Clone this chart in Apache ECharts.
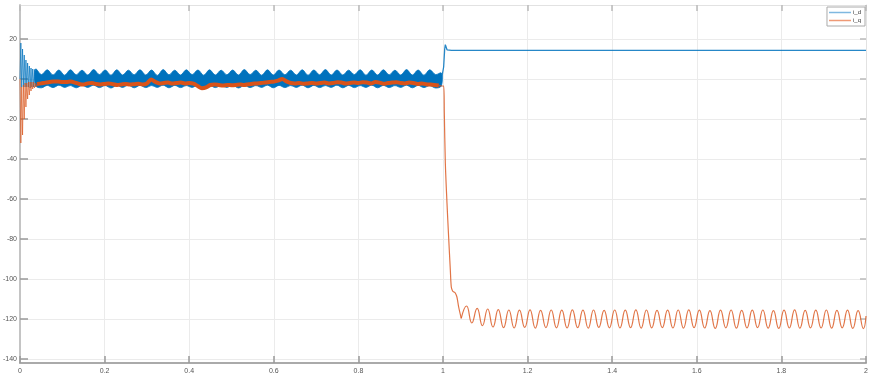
<!DOCTYPE html>
<html>
<head>
<meta charset="utf-8">
<script src="https://cdn.jsdelivr.net/npm/echarts@6/dist/echarts.min.js"></script>
<style>
html,body{margin:0;padding:0;background:#fff;}
#c{width:875px;height:388px;}
</style>
</head>
<body>
<div id="c"></div>
<script>
// ---- tick labels ----
const xTicks = [0, 0.2, 0.4, 0.6, 0.8, 1, 1.2, 1.4, 1.6, 1.8, 2];
const yTicks = [-140, -120, -100, -80, -60, -40, -20, 0, 20];

// ---- i_d (blue) ----
const idTransStart = 0, idTransDt = 0.002;
const idTrans = [0, 18, -4, 15, -4, 12, -4, 9.5, -4, 8, -4, 6.5, -4.5, 5.5, -4, 5, -4, 4.8, -4];
const idBandStart = 0.037, idBandDt = 0.0137;
const idBandUpper = [
  5.0,2.2,4.6,2.0,4.5,1.9,4.6,2.1,4.4,2.0,
  4.7,2.2,4.5,1.9,4.6,2.0,4.4,2.1,4.6,2.0,
  4.5,1.8,4.7,2.1,4.4,2.0,4.6,2.2,4.5,1.9,
  4.6,2.0,4.4,2.1,4.5,2.0,4.7,2.2,4.4,1.9,
  4.6,2.0,4.5,2.1,4.4,2.0,4.6,1.9,4.5,2.1,
  4.7,2.0,4.5,2.0,4.4,2.2,4.6,1.9,4.5,2.0,
  4.6,2.1,4.4,2.0,4.7,2.0,4.5,1.9,4.6,2.2,
  3.0];
const idBandLower = [
  -3.4,-4.4,-3.2,-4.3,-3.1,-4.2,-3.3,-4.4,-3.2,-4.2,
  -3.1,-4.3,-3.3,-4.5,-3.2,-4.2,-3.1,-4.4,-3.2,-4.3,
  -3.3,-4.2,-3.1,-4.4,-3.2,-4.3,-3.3,-4.2,-3.1,-4.4,
  -3.2,-4.3,-3.3,-4.2,-3.1,-4.5,-3.2,-4.3,-3.3,-4.2,
  -3.1,-4.4,-3.2,-4.3,-3.3,-4.2,-3.1,-4.4,-3.2,-4.3,
  -3.3,-4.2,-3.1,-4.4,-3.2,-4.3,-3.3,-4.2,-3.1,-4.4,
  -3.2,-4.3,-3.3,-4.2,-3.1,-4.4,-3.2,-4.3,-3.3,-4.5,
  -3.5];
const idStepT = [0.996, 0.999, 1.0015, 1.004, 1.0055, 1.0075, 1.0095, 1.012, 1.02, 2.0];
const idStepV = [-0.5, -0.5, 6, 15, 17.2, 16.5, 14.6, 14.1, 14.3, 14.3];

// ---- i_q (orange) ----
const iqTransStart = 0, iqTransDt = 0.002;
const iqTrans = [0, -32, -4, -28, -3, -20, -2, -14, -2, -10, -1.5, -8, -1.5, -6, -1.5, -5, -1.5, -4.5, -2, -4, -2.5];
const iqBandStart = 0.04, iqBandDt = 0.01;
const iqBand = [
  -2.5, -2.2, -1.8, -1.5, -1.2, -1.2, -1.5,
  -1.5, -1.3, -1.8, -2.5, -2.8, -2.2, -2.0, -2.5, -2.7, -2.5,
  -2.2, -2.6, -3.0, -2.7, -2.5, -2.8, -2.6, -2.4, -2.7, -2.2,
  -0.3, -1.5, -2.2, -2.0, -1.8, -2.3, -2.0, -1.8, -2.2, -2.0,
  -2.3, -3.5, -4.6, -4.2, -3.0, -2.8, -3.0, -3.2, -3.0, -3.1,
  -3.0, -2.8, -3.0, -2.6, -2.4, -2.2, -2.0, -1.8, -1.5, -1.3,
  -0.8, 0.0, -1.2, -2.0, -2.2, -2.0, -2.4, -2.2, -2.0, -2.3,
  -2.0, -1.8, -2.2, -2.0, -1.6, -1.8, -2.2, -2.0, -1.8, -2.0,
  -1.6, -1.8, -2.2, -1.5, -1.8, -2.4, -2.0, -1.8, -1.6, -2.0,
  -2.2, -1.8, -2.0, -2.5, -2.2, -2.6, -2.8, -3.0, -3.2];
const iqDropT = [0.990, 0.9965, 1.0016, 1.0031, 1.0055, 1.0094, 1.0133, 1.0173, 1.0196, 1.0227, 1.0260, 1.0290, 1.0329, 1.0370];
const iqDropV = [-3.2, -3.5, -3.5, -17, -42, -62, -79, -95.5, -104, -106, -106.5, -107, -109, -114];
const iqOscStart = 1.0431, iqOscDt = 0.01251;
const iqOsc = [
  -119.7,-113.5,-122.0,-114.7,-123.3,-115.0,-124.0,-115.3,-124.3,-115.5,
  -124.5,-115.6,-124.2,-115.4,-124.6,-115.7,-124.3,-115.5,-124.4,-115.6,
  -124.5,-115.4,-124.3,-115.6,-124.6,-115.5,-124.2,-115.7,-124.4,-115.5,
  -124.5,-115.6,-124.3,-115.4,-124.6,-115.5,-124.4,-115.7,-124.3,-115.6,
  -124.5,-115.5,-124.6,-115.4,-124.3,-115.6,-124.5,-115.8,-124.7,-115.6,
  -124.4,-115.5,-124.6,-115.7,-124.5,-115.6,-124.3,-115.5,-124.6,-115.8,
  -124.7,-115.6,-124.5,-115.4,-124.6,-115.7,-124.4,-115.6,-124.5,-115.5,
  -124.6,-115.7,-124.4,-115.6,-124.7,-115.8,-124.8];
const iqEndT = 2.0, iqEndV = -118.5;

// ---- build pairs ----
const grid = (start, dt, arr) => arr.map((v, i) => [+(start + i * dt).toFixed(5), v]);
const pairs = (ts, vs) => ts.map((t, i) => [t, vs[i]]);

const BLUE = '#0072BD', ORANGE = '#D95319';

const idTransData = grid(idTransStart, idTransDt, idTrans);
const idBandData = idBandUpper.map((u, i) => [+(idBandStart + i * idBandDt).toFixed(5), idBandLower[i], u]);
const idStepData = pairs(idStepT, idStepV);

const iqTransData = grid(iqTransStart, iqTransDt, iqTrans);
const iqBandData = grid(iqBandStart, iqBandDt, iqBand);
const iqOscData = grid(iqOscStart, iqOscDt, iqOsc);
const iqDropData = pairs(iqDropT, iqDropV).concat([iqOscData[0]]);
iqOscData.push([iqEndT, iqEndV]);

function renderBand(params, api) {
  if (params.dataIndex !== 0) return null;
  const up = idBandData.map(d => api.coord([d[0], d[2]]));
  const lo = idBandData.map(d => api.coord([d[0], d[1]])).reverse();
  return {
    type: 'polygon',
    shape: {points: up.concat(lo), smooth: 0.35},
    style: {fill: BLUE, stroke: BLUE, lineWidth: 0.8, opacity: 1}
  };
}

const chart = echarts.init(document.getElementById('c'), null, {renderer: 'canvas'});
const axisFont = {color: '#555', fontSize: 7, fontFamily: 'Liberation Sans, Arial, sans-serif'};
const option = {
  animation: false,
  backgroundColor: '#fff',
  grid: {left: 16, right: 9, top: 5, bottom: 25, containLabel: false},
  legend: {
    show: true,
    right: 10, top: 7, orient: 'vertical',
    icon: 'rect',
    itemWidth: 22, itemHeight: 1.5, itemGap: 1,
    padding: [2, 4, 2, 2],
    borderColor: '#aaa', borderWidth: 1, backgroundColor: '#fff',
    textStyle: {fontSize: 6, color: '#333', padding: [0, 0, 0, -3], lineHeight: 7},
    data: [
      {name: 'i_d', itemStyle: {color: '#7fb8e0'}},
      {name: 'i_q', itemStyle: {color: '#ef9a76'}}
    ]
  },
  xAxis: [{
    type: 'value', min: 0, max: 2, interval: 0.2,
    axisLine: {show: true, onZero: false, lineStyle: {color: '#aaa', width: 2}},
    axisTick: {show: true, inside: true, length: 7, lineStyle: {color: '#999', width: 1.5}},
    axisLabel: Object.assign({margin: 5, customValues: xTicks}, axisFont),
    splitLine: {show: true, lineStyle: {color: '#ebebeb', width: 1}}
  }, {
    type: 'value', min: 0, max: 2, interval: 0.2, position: 'top',
    axisLine: {show: true, onZero: false, lineStyle: {color: '#e2e2e2', width: 1}},
    axisTick: {show: true, inside: true, length: 6, lineStyle: {color: '#bbb', width: 1.5}},
    axisLabel: {show: false},
    splitLine: {show: false}
  }],
  yAxis: [{
    type: 'value', min: -142, max: 37, splitNumber: 9,
    axisLine: {show: true, onZero: false, lineStyle: {color: '#c4c4c4', width: 2}},
    axisTick: {show: true, inside: true, length: 8, customValues: yTicks, lineStyle: {color: '#999', width: 1.5}},
    axisLabel: Object.assign({margin: 3, customValues: yTicks}, axisFont),
    splitLine: {show: true, lineStyle: {color: '#ebebeb', width: 1}}
  }, {
    type: 'value', min: -142, max: 37, splitNumber: 9, position: 'right',
    axisLine: {show: true, onZero: false, lineStyle: {color: '#e2e2e2', width: 1}},
    axisTick: {show: true, inside: true, length: 6, customValues: yTicks, lineStyle: {color: '#bbb', width: 1.5}},
    axisLabel: {show: false},
    splitLine: {show: false}
  }],
  series: [
    {name: 'i_d', type: 'line', data: idTransData, symbol: 'none', color: BLUE,
     lineStyle: {color: BLUE, width: 1, opacity: 0.7}},
    {name: 'i_d', type: 'custom', data: idBandData, renderItem: renderBand, color: BLUE,
     encode: {x: 0, y: [1, 2]}, clip: true},
    {name: 'i_d', type: 'line', data: idStepData, symbol: 'none', color: BLUE,
     lineStyle: {color: BLUE, width: 1.3, opacity: 0.85}},
    {name: 'i_q', type: 'line', data: iqTransData, symbol: 'none', color: ORANGE,
     lineStyle: {color: ORANGE, width: 1, opacity: 0.65}},
    {name: 'i_q', type: 'line', data: iqBandData, symbol: 'none', smooth: 0.3, color: ORANGE,
     lineStyle: {color: ORANGE, width: 4}},
    {name: 'i_q', type: 'line', data: iqDropData, symbol: 'none', smooth: 0.3, color: ORANGE,
     lineStyle: {color: ORANGE, width: 1.2, opacity: 0.8}},
    {name: 'i_q', type: 'line', data: iqOscData, symbol: 'none', smooth: 0.5, color: ORANGE,
     lineStyle: {color: ORANGE, width: 1.2, opacity: 0.8}}
  ]
};
chart.setOption(option);
</script>
</body>
</html>
